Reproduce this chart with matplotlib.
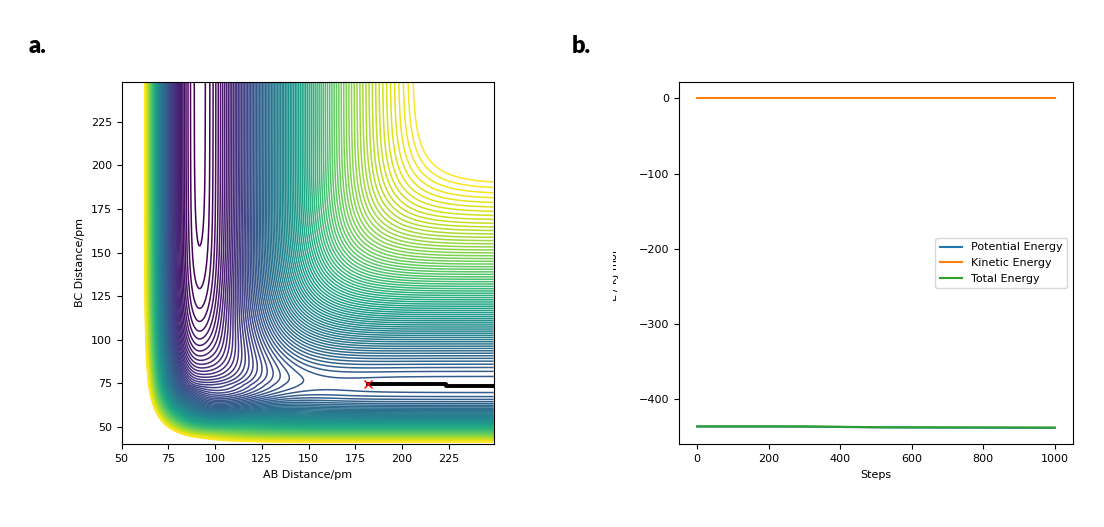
import numpy as np
import matplotlib.pyplot as plt
from matplotlib.transforms import Bbox, TransformedBbox

# model surface for F + H2 -> HF + H (distances in pm, energies in kJ/mol)
# Morse bonds: depth, equilibrium distance, width
hf_morse = (570.0, 91.7, 0.02219)
hh_morse = (436.0, 74.1, 0.01942)
# repulsion of the free H atom: height, decay (long side), decay (short side)
h_rep = (90.0, 0.045, 0.058)
# repulsion of the free F atom: height, decay, fading when H2 is squeezed
f_rep = (328.0, 0.0632, 0.05)
# mixing of the two bonding patterns
mix = 0.36
levels = np.arange(-567.5, -85, 5)

# trajectory (AB, BC) in pm
traj_ab = [182, 223.5, 223.5, 249]
traj_bc = [74.5, 74.5, 73.6, 73.6]

# energies vs steps, kJ/mol
steps = [0, 100, 200, 300, 400, 500, 600, 700, 800, 900, 1000]
potential = [-436.6, -436.6, -436.6, -436.7, -437.2, -437.7, -437.9, -438.0, -438.1, -438.2, -438.3]
kinetic = [0.3, 0.3, 0.3, 0.3, 0.3, 0.3, 0.3, 0.3, 0.3, 0.3, 0.3]
total = [-436.3, -436.3, -436.3, -436.4, -436.9, -437.4, -437.6, -437.7, -437.8, -437.9, -438.0]


def morse(r, d, r0, a):
    e = np.exp(-a * (r - r0))
    return d * (e**2 - 2 * e)


def surface(rab, rbc):
    dy = rbc - hh_morse[1]
    rf = f_rep[0] * np.exp(-f_rep[1] * (rab - hf_morse[1])) * np.exp(f_rep[2] * np.minimum(dy, 0))
    rh = h_rep[0] * np.exp(-np.where(dy < 0, h_rep[2], h_rep[1]) * dy)
    v1 = morse(rbc, *hh_morse) + rf
    v2 = morse(rab, *hf_morse) + rh
    t = mix * np.sqrt(np.maximum(-v1, 1.0) * np.maximum(-v2, 1.0))
    lo = np.minimum(v1, v2)
    gap = np.abs(v1 - v2)
    return lo - t * np.log1p(np.exp(-gap / t))


x = np.arange(50, 249.5, 0.5)
y = np.arange(40, 248.5, 0.5)
X, Y = np.meshgrid(x, y)
Z = surface(X, Y)

plt.rcParams['font.size'] = 8
fig = plt.figure(figsize=(11.04, 5.27), dpi=100)

ax1 = fig.add_axes([0.1102, 0.1569, 0.3370, 0.6881])
ax1.contour(X, Y, Z, levels=levels, cmap='viridis', linewidths=1.1)
ax1.plot(traj_ab, traj_bc, color='black', lw=2.8)
ax1.plot(traj_ab[0], traj_bc[0], 'rx', ms=6)
ax1.set_xticks([50, 75, 100, 125, 150, 175, 200, 225])
ax1.set_yticks([50, 75, 100, 125, 150, 175, 200, 225])
ax1.set_xlabel('AB Distance/pm')
ax1.set_ylabel('BC Distance/pm')

ax2 = fig.add_axes([0.6153, 0.1569, 0.3563, 0.6881])
ax2.plot(steps, potential, label='Potential Energy')
ax2.plot(steps, kinetic, label='Kinetic Energy')
ax2.plot(steps, total, label='Total Energy')
ax2.set_xlabel('Steps')
ax2.legend(loc='center right')

# energy axis label, cut off on its left side as in the original figure
lab = fig.text(623 / 1104, 1 - 270 / 527, 'E / kJ mol$^{-1}$', rotation=90,
               ha='right', va='center')
lab.set_clip_box(TransformedBbox(Bbox([[613 / 1104, 0], [1, 1]]), fig.transFigure))

fig.text(0.026, 0.899, 'a.', fontsize=17, fontweight='heavy', family='Lato')
fig.text(0.518, 0.899, 'b.', fontsize=17, fontweight='heavy', family='Lato')

fig.savefig('out.png', dpi=100)
